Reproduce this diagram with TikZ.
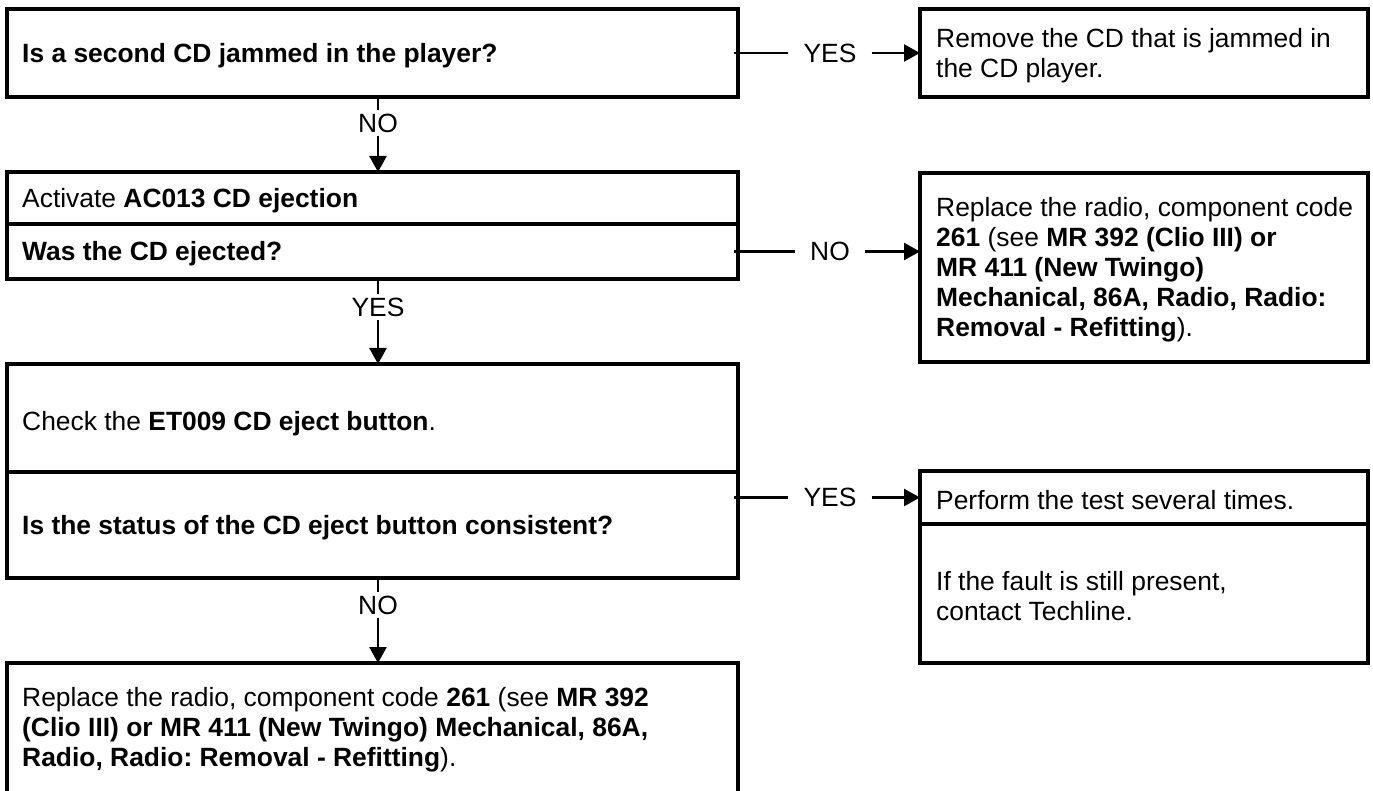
\documentclass[tikz,border=0pt]{standalone}
\usepackage{fontspec}
\setmainfont{Liberation Sans}
\frenchspacing
\usetikzlibrary{arrows.meta,calc}
\begin{document}
\begin{tikzpicture}[x=1pt,y=-1pt,
  box/.style={draw, line width=3.2pt, rectangle, outer sep=0pt, inner sep=0pt, anchor=north west},
  lbox/.style={box, minimum width=731pt},
  rbox/.style={box, minimum width=448pt},
  txt/.style={align=left, inner sep=0pt, anchor=west, yshift=-2.5pt, font=\fontsize{26.4}{30}\selectfont},
  lbl/.style={inner xsep=15pt, inner ysep=3pt, font=\fontsize{26.4}{30}\selectfont},
  conn/.style={line width=2.6pt},
  arr/.style={conn, -{Triangle[length=16pt,width=17pt]}}]
\useasboundingbox (0,0) rectangle (1373,791);
\fill[white] (0,0) rectangle (1373,791);

% left column boxes
\node[lbox, minimum height=88pt]  (q1) at (7,9) {};
\node[lbox, minimum height=52pt]  (a2) at (7,172) {};
\node[lbox, minimum height=55pt]  (q2) at (7,224) {};
\node[lbox, minimum height=108pt] (c3) at (7,364) {};
\node[lbox, minimum height=106pt] (q3) at (7,472) {};
\node[lbox, minimum height=150pt] (r4) at (7,663) {};

% right column boxes
\node[rbox, minimum height=88pt]  (R1) at (920,9) {};
\node[rbox, minimum height=189pt] (R2) at (920,173) {};
\node[rbox, minimum height=53pt]  (R3a) at (920,471) {};
\node[rbox, minimum height=139pt] (R3b) at (920,524) {};

% texts
\node[txt] (q1t) at ([xshift=15pt]q1.west) {\textbf{Is a second CD jammed in the player?}};
\node[txt] (a2t) at ([xshift=15pt]a2.west) {Activate \textbf{AC013 CD ejection}};
\node[txt] (q2t) at ([xshift=15pt]q2.west) {\textbf{Was the CD ejected?}};
\node[txt] (c3t) at (22,421) {Check the \textbf{ET009 CD eject button}.};
\node[txt] (q3t) at ([xshift=15pt]q3.west) {\textbf{Is the status of the CD eject button consistent?}};
\node[txt] (r4t) at (22,727) {Replace the radio, component code \textbf{261} (see \textbf{MR 392}\\
  \textbf{(Clio III) or MR 411 (New Twingo) Mechanical, 86A,}\\
  \textbf{Radio, Radio: Removal - Refitting}).};

\node[txt] (R1t) at ([xshift=16pt]R1.west) {Remove the CD that is jammed in\\the CD player.};
\node[txt] (R2t) at ([xshift=16pt]R2.west) {Replace the radio, component code\\
  \textbf{261} (see \textbf{MR 392 (Clio III) or}\\
  \textbf{MR 411 (New Twingo)}\\
  \textbf{Mechanical, 86A, Radio, Radio:}\\
  \textbf{Removal - Refitting}).};
\node[txt] (R3at) at ([xshift=16pt]R3a.west) {Perform the test several times.};
\node[txt] (R3bt) at ([xshift=16pt]R3b.west) {If the fault is still present,\\contact Techline.};

% vertical connectors
\coordinate (vx) at (378,0);
\node[lbl] (n1) at (378,123) {NO};
\draw[conn] (q1.south -| vx) -- (n1.north);
\draw[arr] (n1.south) -- (a2.north -| vx);

\node[lbl] (y2) at (378,307) {YES};
\draw[conn] (q2.south -| vx) -- (y2.north);
\draw[arr] (y2.south) -- (c3.north -| vx);

\node[lbl] (n3) at (378,605) {NO};
\draw[conn] (q3.south -| vx) -- (n3.north);
\draw[arr] (n3.south) -- (r4.north -| vx);

% horizontal connectors
\node[lbl] (y1) at (830,53) {YES};
\draw[conn] ($(q1.east)+(-4,0)$) -- (y1.west);
\draw[arr] (y1.east) -- (R1.west);

\node[lbl] (n2) at (830,251.5) {NO};
\draw[conn] ($(q2.east)+(-4,0)$) -- (n2.west);
\draw[arr] (n2.east) -- (n2.east -| R2.west);

\node[lbl] (y3) at (830,497.5) {YES};
\draw[conn] ($(q3.east |- y3.west)+(-4,0)$) -- (y3.west);
\draw[arr] (y3.east) -- (R3a.west);
\end{tikzpicture}
\end{document}
